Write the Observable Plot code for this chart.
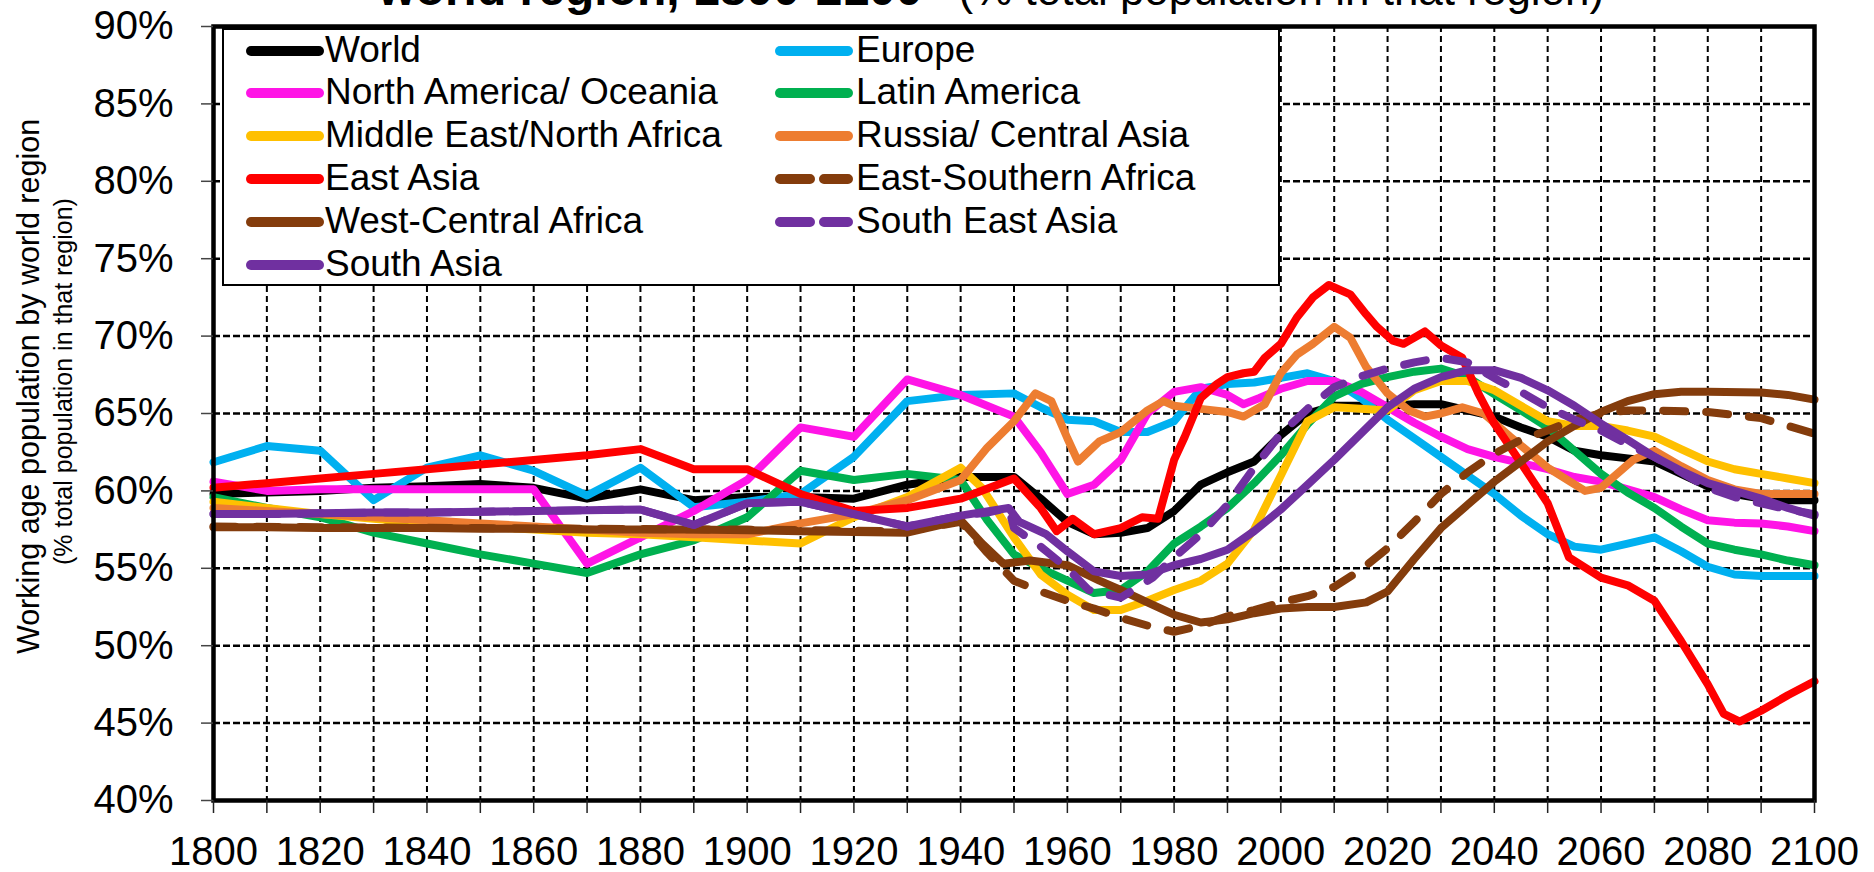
<!DOCTYPE html>
<html><head><meta charset="utf-8">
<script src="https://cdn.jsdelivr.net/npm/d3@7"></script>
<script src="https://cdn.jsdelivr.net/npm/@observablehq/plot@0.6"></script>
<style>
html,body{margin:0;padding:0;background:#fff;}
#wrap{position:relative;width:1874px;height:872px;overflow:hidden;font-family:"Liberation Sans",Arial,sans-serif;}
#legend{position:absolute;left:222px;top:28px;width:1054px;height:254px;border:2px solid #000;background:#fff;}
.item{position:absolute;height:42px;display:flex;align-items:center;font-size:37px;white-space:nowrap;color:#000;}
.item svg{position:absolute;top:16px;}
.item span{position:absolute;top:-1px;line-height:42px;}
</style></head><body><div id="wrap"><div id="legend"></div></div>
<script>
// ---- data: [year, % working-age population] ----
const world = [[1800,59.8],[1810,59.9],[1820,60.0],[1830,60.2],[1840,60.3],[1850,60.45],[1860,60.2],[1870,59.5],[1880,60.1],[1890,59.4],[1900,59.6],[1910,59.6],[1920,59.5],[1930,60.4],[1940,60.9],[1950,60.9],[1955,59.5],[1960,58.0],[1965,57.2],[1970,57.3],[1975,57.6],[1980,58.7],[1985,60.4],[1990,61.2],[1995,61.9],[2000,63.6],[2005,65.0],[2010,65.5],[2015,65.5],[2020,65.5],[2025,65.6],[2030,65.6],[2035,65.2],[2040,64.8],[2045,64.1],[2050,63.5],[2055,62.6],[2060,62.3],[2065,62.1],[2070,61.9],[2075,61.1],[2080,60.3],[2085,59.8],[2090,59.5],[2095,59.4],[2100,59.4]];
const europe = [[1800,61.85],[1810,62.9],[1820,62.6],[1830,59.4],[1840,61.5],[1850,62.3],[1860,61.3],[1870,59.7],[1880,61.5],[1890,58.95],[1900,59.3],[1910,59.8],[1920,62.2],[1930,65.8],[1940,66.2],[1950,66.3],[1955,65.4],[1960,64.6],[1965,64.5],[1970,63.8],[1975,63.8],[1980,64.5],[1985,66.6],[1990,66.9],[1995,67.0],[2000,67.3],[2005,67.6],[2010,67.1],[2015,66.0],[2020,64.6],[2025,63.4],[2030,62.2],[2035,61.0],[2040,59.8],[2045,58.4],[2050,57.2],[2055,56.4],[2060,56.2],[2065,56.6],[2070,57.0],[2075,56.1],[2080,55.1],[2085,54.6],[2090,54.5],[2095,54.5],[2100,54.5]];
const northAmericaOceania = [[1800,60.6],[1810,60.0],[1820,60.1],[1830,60.1],[1840,60.1],[1850,60.1],[1860,60.1],[1870,55.3],[1880,57.0],[1890,58.7],[1900,60.7],[1910,64.1],[1920,63.5],[1930,67.2],[1940,66.2],[1950,64.8],[1955,62.5],[1960,59.8],[1965,60.4],[1970,62.0],[1975,65.0],[1980,66.4],[1985,66.7],[1990,66.2],[1993,65.6],[1996,66.0],[2000,66.6],[2005,67.1],[2010,67.1],[2015,66.4],[2020,65.4],[2025,64.4],[2030,63.5],[2035,62.7],[2040,62.2],[2045,61.8],[2050,61.4],[2055,60.9],[2060,60.6],[2065,60.1],[2070,59.6],[2075,58.8],[2080,58.1],[2085,57.95],[2090,57.9],[2095,57.7],[2100,57.4]];
const latinAmerica = [[1800,59.6],[1810,58.9],[1820,58.3],[1830,57.3],[1840,56.6],[1850,55.9],[1860,55.3],[1870,54.7],[1880,55.9],[1890,56.8],[1900,58.3],[1910,61.3],[1920,60.7],[1930,61.1],[1940,60.7],[1945,58.1],[1950,55.9],[1955,55.0],[1960,54.2],[1965,53.4],[1970,53.6],[1975,54.8],[1980,56.6],[1985,57.7],[1990,58.9],[1995,60.5],[2000,62.3],[2005,64.3],[2010,66.1],[2015,66.9],[2020,67.35],[2025,67.7],[2030,67.9],[2035,67.35],[2040,66.25],[2045,65.2],[2050,64.1],[2055,62.6],[2060,61.1],[2065,59.9],[2070,58.9],[2075,57.7],[2080,56.6],[2085,56.2],[2090,55.9],[2095,55.5],[2100,55.2]];
const middleEastNorthAfrica = [[1800,59.3],[1810,58.9],[1820,58.5],[1830,58.2],[1840,57.9],[1850,57.7],[1860,57.5],[1870,57.3],[1880,57.2],[1890,57.0],[1900,56.8],[1910,56.6],[1920,58.3],[1930,59.6],[1940,61.5],[1944,60.2],[1950,57.0],[1955,54.6],[1960,53.3],[1965,52.3],[1970,52.3],[1975,52.9],[1980,53.6],[1985,54.2],[1990,55.3],[1995,57.5],[2000,61.0],[2005,64.5],[2010,65.4],[2015,65.3],[2020,65.2],[2025,66.5],[2030,67.1],[2035,67.1],[2040,66.5],[2045,65.5],[2050,64.5],[2055,64.2],[2060,64.2],[2065,63.9],[2070,63.5],[2075,62.7],[2080,61.9],[2085,61.4],[2090,61.1],[2095,60.8],[2100,60.5]];
const russiaCentralAsia = [[1800,58.9],[1810,58.7],[1820,58.5],[1830,58.3],[1840,58.1],[1850,57.9],[1860,57.7],[1870,57.5],[1880,57.3],[1890,57.2],[1900,57.2],[1910,57.9],[1920,58.5],[1930,59.4],[1940,60.7],[1945,62.8],[1950,64.5],[1954,66.3],[1957,65.8],[1960,63.4],[1962,61.9],[1966,63.2],[1970,63.8],[1975,65.2],[1978,65.8],[1980,65.5],[1985,65.3],[1990,65.1],[1993,64.8],[1997,65.6],[2000,67.6],[2003,68.8],[2006,69.5],[2010,70.6],[2013,69.9],[2016,68.0],[2020,66.3],[2024,65.2],[2027,64.8],[2030,65.0],[2034,65.4],[2038,65.0],[2043,63.5],[2050,61.5],[2057,60.0],[2060,60.2],[2066,62.0],[2070,62.6],[2075,61.6],[2080,60.7],[2085,60.1],[2090,59.8],[2100,59.8]];
const eastAsia = [[1800,60.2],[1810,60.5],[1820,60.8],[1830,61.1],[1840,61.4],[1850,61.7],[1860,62.0],[1870,62.3],[1880,62.7],[1890,61.4],[1900,61.4],[1910,59.8],[1920,58.7],[1930,58.9],[1940,59.5],[1950,60.8],[1955,58.9],[1958,57.4],[1961,58.2],[1965,57.2],[1970,57.6],[1974,58.3],[1977,58.2],[1980,62.0],[1982,63.5],[1985,66.0],[1988,66.9],[1990,67.35],[1993,67.6],[1995,67.7],[1997,68.6],[2000,69.5],[2003,71.2],[2006,72.5],[2009,73.3],[2013,72.7],[2016,71.4],[2018,70.6],[2021,69.7],[2023,69.5],[2027,70.3],[2030,69.4],[2034,68.6],[2037,66.3],[2040,64.35],[2045,61.8],[2050,59.2],[2054,55.7],[2060,54.4],[2065,53.9],[2070,52.9],[2075,50.3],[2080,47.5],[2083,45.6],[2086,45.1],[2090,45.8],[2095,46.8],[2100,47.7]];
const eastSouthernAfrica = [[1800,57.7],[1850,57.6],[1900,57.5],[1930,57.4],[1940,58.0],[1945,56.0],[1950,54.2],[1955,53.5],[1960,52.9],[1965,52.4],[1970,51.8],[1975,51.3],[1980,50.9],[1985,51.3],[1990,51.9],[1995,52.3],[2000,52.8],[2005,53.2],[2010,53.8],[2015,54.9],[2020,56.3],[2025,58.0],[2030,59.8],[2035,61.2],[2040,62.4],[2045,63.3],[2050,63.9],[2055,64.6],[2060,65.0],[2065,65.2],[2070,65.2],[2080,65.1],[2085,64.9],[2090,64.7],[2095,64.2],[2100,63.7]];
const westCentralAfrica = [[1800,57.65],[1810,57.65],[1820,57.6],[1830,57.6],[1840,57.6],[1850,57.55],[1860,57.55],[1870,57.5],[1880,57.5],[1890,57.5],[1900,57.45],[1910,57.4],[1920,57.35],[1930,57.3],[1940,58.1],[1944,56.6],[1948,55.3],[1953,55.5],[1960,55.2],[1966,54.2],[1970,53.6],[1975,52.8],[1980,52.0],[1985,51.5],[1990,51.7],[1995,52.1],[2000,52.4],[2005,52.5],[2010,52.5],[2016,52.8],[2020,53.5],[2025,55.6],[2030,57.6],[2035,59.1],[2040,60.6],[2045,61.9],[2050,63.2],[2055,64.2],[2060,65.1],[2065,65.8],[2070,66.25],[2075,66.4],[2080,66.4],[2090,66.35],[2095,66.2],[2100,65.9]];
const southEastAsia = [[1800,58.5],[1810,58.5],[1820,58.55],[1830,58.6],[1840,58.6],[1850,58.65],[1860,58.7],[1870,58.75],[1880,58.8],[1890,57.8],[1900,59.2],[1910,59.3],[1920,58.5],[1930,57.7],[1940,58.4],[1945,58.6],[1949,58.9],[1950,57.6],[1955,56.4],[1960,55.0],[1964,53.6],[1970,53.1],[1976,54.4],[1980,55.7],[1985,57.2],[1990,59.1],[1995,61.5],[2000,63.7],[2005,65.3],[2010,66.7],[2015,67.4],[2020,67.9],[2025,68.3],[2030,68.6],[2035,68.3],[2041,67.1],[2045,66.4],[2050,65.4],[2055,64.6],[2060,63.9],[2065,63.0],[2070,62.2],[2075,61.2],[2080,60.2],[2085,59.6],[2090,59.2],[2095,58.8],[2100,58.5]];
const southAsia = [[1800,58.5],[1810,58.5],[1820,58.55],[1830,58.6],[1840,58.6],[1850,58.65],[1860,58.7],[1870,58.75],[1880,58.8],[1890,57.8],[1900,59.2],[1910,59.3],[1920,58.5],[1930,57.7],[1940,58.4],[1949,58.9],[1951,58.0],[1956,57.2],[1960,56.1],[1965,54.8],[1970,54.5],[1975,54.6],[1980,55.2],[1985,55.6],[1990,56.2],[1995,57.4],[2000,58.8],[2005,60.4],[2010,62.0],[2015,63.7],[2020,65.4],[2025,66.6],[2030,67.35],[2035,67.8],[2040,67.8],[2045,67.3],[2050,66.5],[2055,65.5],[2060,64.35],[2065,63.3],[2070,62.2],[2075,61.3],[2080,60.5],[2085,60.0],[2090,59.5],[2095,58.9],[2100,58.4]];

const seriesNames = ["World","Europe","North America/ Oceania","Latin America","Middle East/North Africa","Russia/ Central Asia","East Asia","East-Southern Africa","West-Central Africa","South East Asia","South Asia"];
const seriesData = [world,europe,northAmericaOceania,latinAmerica,middleEastNorthAfrica,russiaCentralAsia,eastAsia,eastSouthernAfrica,westCentralAfrica,southEastAsia,southAsia];
const seriesColors = ["#000000","#00B0F0","#FF14E6","#00B050","#FFC000","#ED7D31","#FF0000","#843C0C","#843C0C","#7030A0","#7030A0"];
const seriesDashed = [false,false,false,false,false,false,false,true,false,true,false];
const yTicks = [40,45,50,55,60,65,70,75,80,85,90];
const xTickYears = d3.range(1800, 2101, 10);
const xLabelYears = d3.range(1800, 2101, 20);

const titleBold = "world region, 1800-2100";
const titleRest = "(% total population in that region)";
const yLabelMain = "Working age population by world region";
const yLabelSub = "(% total population in that region)";

const font = "Liberation Sans, Arial, Helvetica, sans-serif";
const DASH = "22,21";

const lineMarks = seriesData.map((pts, i) => Plot.line(pts, {
  x: d => d[0], y: d => d[1],
  stroke: seriesColors[i], strokeWidth: 8,
  strokeLinecap: "round", strokeLinejoin: "round",
  strokeDasharray: seriesDashed[i] ? DASH : null
}));

const chart = Plot.plot({
  width: 1874, height: 872,
  marginLeft: 213, marginRight: 60, marginTop: 26, marginBottom: 72,
  style: {fontFamily: font, background: "white", color: "black", overflow: "visible"},
  x: {domain: [1800, 2100], label: null},
  y: {domain: [40, 90], label: null},
  marks: [
    Plot.gridX({ticks: xTickYears.filter(d => d > 1800 && d < 2100), stroke: "#000", strokeOpacity: 1, strokeWidth: 2, strokeDasharray: "6,4"}),
    Plot.gridY({ticks: yTicks.filter(d => d > 40 && d < 90), stroke: "#000", strokeOpacity: 1, strokeWidth: 2.5, strokeDasharray: "7,3"}),
    ...lineMarks,
    Plot.frame({stroke: "#000", strokeWidth: 4.5}),
    Plot.axisX({ticks: xTickYears, tickSize: 13, tickFormat: () => "", strokeWidth: 1.5, stroke: "#222", label: null}),
    Plot.axisX({ticks: xLabelYears, tickSize: 0, tickPadding: 36, tickFormat: d => String(d), fontSize: 40, label: null}),
    Plot.axisY({ticks: yTicks, tickSize: 12, tickPadding: 28, tickFormat: d => d + "%", fontSize: 40, strokeWidth: 1.5, stroke: "#444", label: null}),
    Plot.text([titleBold], {frameAnchor: "top-left", text: d => d, textAnchor: "end", lineAnchor: "bottom", dx: 922 - 213, dy: 4 - 26, fontSize: 48, fontWeight: "bold", fill: "#000"}),
    Plot.text([titleRest], {frameAnchor: "top-left", text: d => d, textAnchor: "start", lineAnchor: "bottom", dx: 958 - 213, dy: 4 - 26, fontSize: 44, fill: "#000"}),
    Plot.text([yLabelMain], {frameAnchor: "left", text: d => d, rotate: -90, textAnchor: "middle", lineAnchor: "bottom", dx: 38 - 213, dy: 386 - 413, fontSize: 30.5, fill: "#000"}),
    Plot.text([yLabelSub], {frameAnchor: "left", text: d => d, rotate: -90, textAnchor: "middle", lineAnchor: "bottom", dx: 71 - 213, dy: 381 - 413, fontSize: 25, fill: "#000"})
  ]
});
const wrap = document.getElementById("wrap");
wrap.insertBefore(chart, wrap.firstChild);
chart.style.position = "absolute"; chart.style.left = "0"; chart.style.top = "0";

// legend (HTML overlay)
const legend = document.getElementById("legend");
const rowCenters = [51, 93, 136, 179, 222, 265];
seriesNames.forEach((name, i) => {
  const col = i % 2, row = Math.floor(i / 2);
  const item = document.createElement("div");
  item.className = "item";
  const innerLeft = 224, innerTop = 30;
  const sampleLeft = col === 0 ? 246 : 775;
  const textLeft = col === 0 ? 325 : 856;
  item.style.left = (sampleLeft - innerLeft) + "px";
  item.style.top = (rowCenters[row] - 21 - innerTop) + "px";
  const ns = "http://www.w3.org/2000/svg";
  const svg = document.createElementNS(ns, "svg");
  svg.setAttribute("width", 78); svg.setAttribute("height", 10);
  svg.style.left = "0px"; svg.style.top = "16px";
  const ln = document.createElementNS(ns, "line");
  ln.setAttribute("x1", 5); ln.setAttribute("x2", 73); ln.setAttribute("y1", 5); ln.setAttribute("y2", 5);
  ln.setAttribute("stroke", seriesColors[i]); ln.setAttribute("stroke-width", 10); ln.setAttribute("stroke-linecap", "round");
  if (seriesDashed[i]) ln.setAttribute("stroke-dasharray", "30,14");
  svg.appendChild(ln);
  item.appendChild(svg);
  const sp = document.createElement("span");
  sp.textContent = name;
  sp.style.left = (textLeft - sampleLeft) + "px";
  item.appendChild(sp);
  legend.appendChild(item);
});
</script></body></html>
